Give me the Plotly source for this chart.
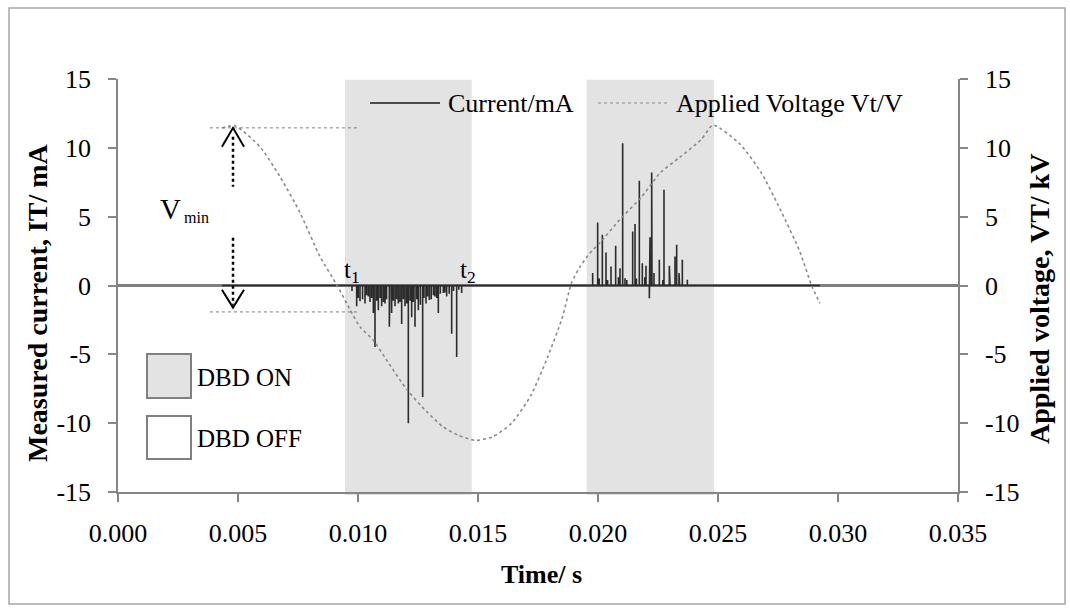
import plotly.graph_objects as go

# ---------------- data ----------------
x_ticks = [0.000, 0.005, 0.010, 0.015, 0.020, 0.025, 0.030, 0.035]
x_tick_labels = ["0.000", "0.005", "0.010", "0.015", "0.020", "0.025", "0.030", "0.035"]
y_ticks = [-15, -10, -5, 0, 5, 10, 15]
y_tick_labels = ["-15", "-10", "-5", "0", "5", "10", "15"]

# applied voltage (kV) vs time (s)
volt_t = [0.00433, 0.00488, 0.00592, 0.00675, 0.00758, 0.00842, 0.00913, 0.00967,
          0.01008, 0.01063, 0.01130, 0.01204, 0.01288, 0.01354, 0.01420, 0.01490,
          0.01560, 0.01640, 0.01720, 0.01790, 0.01850, 0.01890, 0.01925, 0.01967,
          0.02008, 0.02090, 0.02180, 0.02260, 0.02340, 0.02430, 0.02480, 0.02590,
          0.02680, 0.02760, 0.02840, 0.02890, 0.02925]
volt_v = [11.45, 11.6, 10.07, 7.9, 5.3, 2.09, 0.0, -1.76,
          -3.0, -3.96, -5.7, -7.57, -9.2, -10.26, -10.9, -11.25,
          -11.0, -10.0, -8.0, -5.2, -2.4, 0.2, 1.36, 2.37,
          3.1, 4.77, 6.4, 8.2, 9.3, 10.6, 11.65, 10.3,
          8.2, 5.5, 2.5, 0.0, -1.3]

# measured current (mA): record limits and discharge pulses
current_start, current_end = 0.00433, 0.02925
pulse_t = [0.009944, 0.010083, 0.010292, 0.010431, 0.010639, 0.010708, 0.010847, 0.010986,
           0.011125, 0.011306, 0.011403, 0.011542, 0.011681, 0.011819, 0.011958, 0.012097,
           0.012236, 0.012375, 0.012514, 0.012694, 0.012833, 0.012972, 0.013208, 0.013347,
           0.013556, 0.013694, 0.013903, 0.014111, 0.014319,
           0.00975, 0.01001, 0.01019, 0.01036, 0.01050, 0.01057, 0.01078, 0.01092,
           0.01106, 0.01119, 0.01133, 0.01147, 0.01161, 0.01175, 0.01189, 0.01203,
           0.01217, 0.01230, 0.01245, 0.01260, 0.01275, 0.01290, 0.01305, 0.01314,
           0.01328, 0.01343, 0.01362, 0.01380, 0.01398, 0.01420,
           0.019778, 0.019986, 0.020181, 0.020333, 0.020542, 0.020736, 0.020917, 0.021028,
           0.021125, 0.021444, 0.021542, 0.021722, 0.021847, 0.022000, 0.022139, 0.022167,
           0.022236, 0.022333, 0.022556, 0.022750, 0.022972, 0.023208, 0.023278, 0.023375,
           0.023514, 0.023722,
           0.02005, 0.02040, 0.02085, 0.02120, 0.02160, 0.02195, 0.02225, 0.02270,
           0.02300, 0.02340]
pulse_v = [-1.5, -1.15, -1.3, -0.8, -2.0, -4.46, -1.8, -1.5,
           -1.3, -3.0, -2.0, -1.5, -1.3, -2.8, -1.5, -10.0,
           -2.3, -3.0, -1.8, -8.1, -1.3, -1.05, -0.8, -2.0,
           -0.55, -0.8, -3.5, -5.2, -0.55,
           -0.4, -0.9, -1.0, -0.7, -1.2, -0.9, -1.1, -0.9,
           -1.2, -1.0, -1.4, -1.1, -1.0, -1.2, -1.0, -1.3,
           -1.1, -1.2, -1.0, -1.4, -0.9, -0.8, -1.0, -0.7,
           -0.9, -0.6, -0.5, -0.6, -0.4, -0.3,
           0.9, 4.58, 3.68, 2.4, 1.38, 2.88, 1.26, 10.34,
           0.53, 3.92, 4.46, 7.6, 1.62, 1.43, -0.92, 3.51,
           8.2, 0.9, 1.87, 6.95, 1.43, 2.1, 2.96, 0.9,
           1.87, 0.41,
           0.5, 0.4, 0.6, 0.4, 0.5, 0.6, 0.5, 0.4,
           0.5, 0.3]

# discharge (DBD ON) windows
dbd_on = [(0.009458, 0.014738), (0.01953, 0.024833)]

# ---------------- build current series from pulses ----------------
cur_t = [current_start]
cur_v = [0.0]
for t, v in sorted(zip(pulse_t, pulse_v)):
    cur_t += [t, t, t]
    cur_v += [0.0, v, 0.0]
cur_t.append(current_end)
cur_v.append(0.0)

# ---------------- layout helpers ----------------
W, H = 1070, 610
L, R, T, B = 118, 958, 79, 492
PW, PH = R - L, B - T


def px(x):
    return (x - L) / PW


def py(y):
    return (B - y) / PH


FONT = "Liberation Serif, Times New Roman, serif"
AX = "#868686"

fig = go.Figure()

fig.add_trace(go.Scatter(
    x=volt_t, y=volt_v, yaxis="y2", mode="lines", name="Applied Voltage Vt/V",
    line=dict(color="#8a8a8a", width=1.6, dash="dot", shape="spline", smoothing=0.6),
    showlegend=False))

fig.add_trace(go.Scatter(
    x=cur_t, y=cur_v, mode="lines", name="Current/mA",
    line=dict(color="#2b2b2b", width=1.6), showlegend=False))

shapes = []
for a, b in dbd_on:
    shapes.append(dict(type="rect", xref="x", yref="paper", x0=a, x1=b, y0=-0.007, y1=0.998,
                       fillcolor="#e3e3e3", line=dict(width=0), layer="below"))

# outer frame
shapes.append(dict(type="rect", xref="paper", yref="paper", x0=px(9), x1=px(1065),
                   y0=py(604), y1=py(8), line=dict(color="#a6a6a6", width=1.5),
                   fillcolor="rgba(0,0,0,0)", layer="below"))

# reference dotted lines (Vmax and V at t1)
shapes.append(dict(type="line", xref="x", yref="y", x0=0.00383, x1=0.0100, y0=11.45, y1=11.45,
                   line=dict(color="#7f7f7f", width=1, dash="dot")))
shapes.append(dict(type="line", xref="x", yref="y", x0=0.00383, x1=0.01008, y0=-1.92, y1=-1.92,
                   line=dict(color="#7f7f7f", width=1, dash="dot")))

# Vmin double arrow
xa = 0.004792
shapes.append(dict(type="line", xref="x", yref="y", x0=xa, x1=xa, y0=10.8, y1=7.17,
                   line=dict(color="black", width=2.5, dash="dot")))
shapes.append(dict(type="line", xref="x", yref="y", x0=xa, x1=xa, y0=3.46, y1=-1.4,
                   line=dict(color="black", width=2.5, dash="dot")))
shapes.append(dict(type="path", xref="x", yref="y",
                   path=f"M {0.00433},{10.07} L {xa},{11.45} L {0.00525},{10.07}",
                   line=dict(color="black", width=2)))
shapes.append(dict(type="path", xref="x", yref="y",
                   path=f"M {0.00433},{-0.31} L {xa},{-1.6} L {0.00525},{-0.31}",
                   line=dict(color="black", width=2)))

# custom legend (top)
shapes.append(dict(type="line", xref="paper", yref="paper", x0=px(370), x1=px(440),
                   y0=py(103), y1=py(103), line=dict(color="#1a1a1a", width=1.6)))
shapes.append(dict(type="line", xref="paper", yref="paper", x0=px(598), x1=px(667),
                   y0=py(103), y1=py(103), line=dict(color="#8a8a8a", width=1.2, dash="dot")))

# DBD ON / OFF boxes
shapes.append(dict(type="rect", xref="paper", yref="paper", x0=px(147), x1=px(191),
                   y0=py(398), y1=py(354), fillcolor="#e3e3e3",
                   line=dict(color="#808080", width=2)))
shapes.append(dict(type="rect", xref="paper", yref="paper", x0=px(147), x1=px(191),
                   y0=py(459), y1=py(416), fillcolor="white",
                   line=dict(color="#808080", width=2)))

ann = []


def text(x, y, s, size=25, xanchor="left", angle=0):
    ann.append(dict(xref="paper", yref="paper", x=px(x), y=py(y), text=s, showarrow=False,
                    xanchor=xanchor, yanchor="middle", textangle=angle,
                    font=dict(family=FONT, size=size, color="black")))


text(446, 104, "Current/mA", size=26)
text(674, 104, "Applied Voltage Vt/V", size=26)
text(195, 377, "DBD ON")
text(195, 438, "DBD OFF")
text(170, 209, "V", size=29, xanchor="center")
text(182, 218, "min", size=16)
text(342, 271, "t<sub>1</sub>")
text(458, 271, "t<sub>2</sub>")
text(541, 574, "<b>Time/ s</b>", size=26, xanchor="center")
text(37, 303, "<b>Measured current, IT/ mA</b>", size=28, xanchor="center", angle=-90)
text(1039, 299, "<b>Applied voltage, VT/ kV</b>", size=28, xanchor="center", angle=-90)

axis_common = dict(showline=True, linecolor=AX, linewidth=1.5, ticks="outside", ticklen=8,
                   tickcolor=AX, tickwidth=1.5, showgrid=False,
                   tickfont=dict(family=FONT, size=26, color="black"))

fig.update_layout(
    width=W, height=H,
    margin=dict(l=L, r=W - R, t=T, b=H - B, autoexpand=False),
    paper_bgcolor="white", plot_bgcolor="rgba(0,0,0,0)",
    xaxis=dict(range=[0, 0.035], tickvals=x_ticks, ticktext=x_tick_labels, zeroline=False,
               ticklabelstandoff=9, **axis_common),
    yaxis=dict(range=[-15, 15], tickvals=y_ticks, ticktext=y_tick_labels, zeroline=True,
               zerolinecolor="#808080", zerolinewidth=2.5, ticklabelstandoff=12, **axis_common),
    yaxis2=dict(range=[-15, 15], tickvals=y_ticks, ticktext=y_tick_labels, overlaying="y",
                side="right", zeroline=False, ticklabelstandoff=12, **axis_common),
    shapes=shapes, annotations=ann, showlegend=False,
)

fig.write_html("out.html")
